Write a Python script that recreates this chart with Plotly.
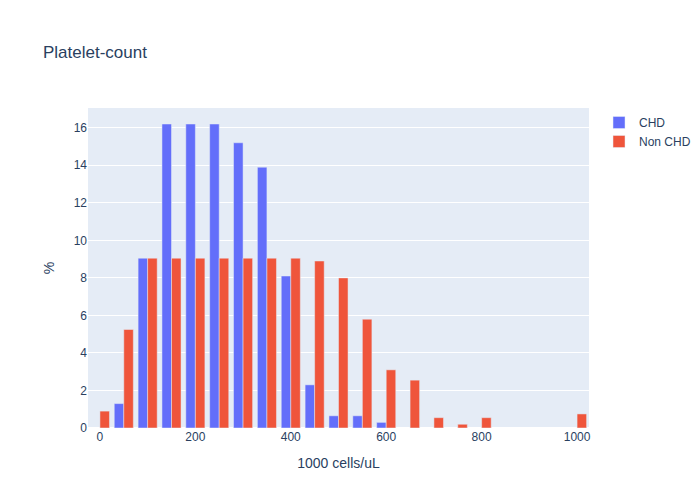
import plotly.graph_objects as go

chd_x = [50, 100, 150, 200, 250, 300, 350, 400, 450, 500, 550, 600]
chd_y = [1.3, 9.05, 16.2, 16.2, 16.2, 15.2, 13.9, 8.1, 2.3, 0.65, 0.65, 0.3]

non_x = [0, 50, 100, 150, 200, 250, 300, 350, 400, 450, 500, 550, 600, 650, 700, 750, 800, 1000]
non_y = [0.9, 5.25, 9.05, 9.05, 9.05, 9.05, 9.05, 9.05, 9.05, 8.9, 8.0, 5.8, 3.1, 2.55, 0.55, 0.2, 0.55, 0.75]

fig = go.Figure()
fig.add_trace(go.Bar(x=chd_x, y=chd_y, name="CHD"))
fig.add_trace(go.Bar(x=non_x, y=non_y, name="Non CHD"))

fig.update_layout(
    title="Platelet-count",
    barmode="group",
    width=700, height=500,
    font=dict(family="Liberation Sans, Arial, sans-serif"),
    xaxis_title="1000 cells/uL",
    yaxis_title="%",
)
fig.update_xaxes(range=[-25, 1025])

fig.write_html("out.html")
